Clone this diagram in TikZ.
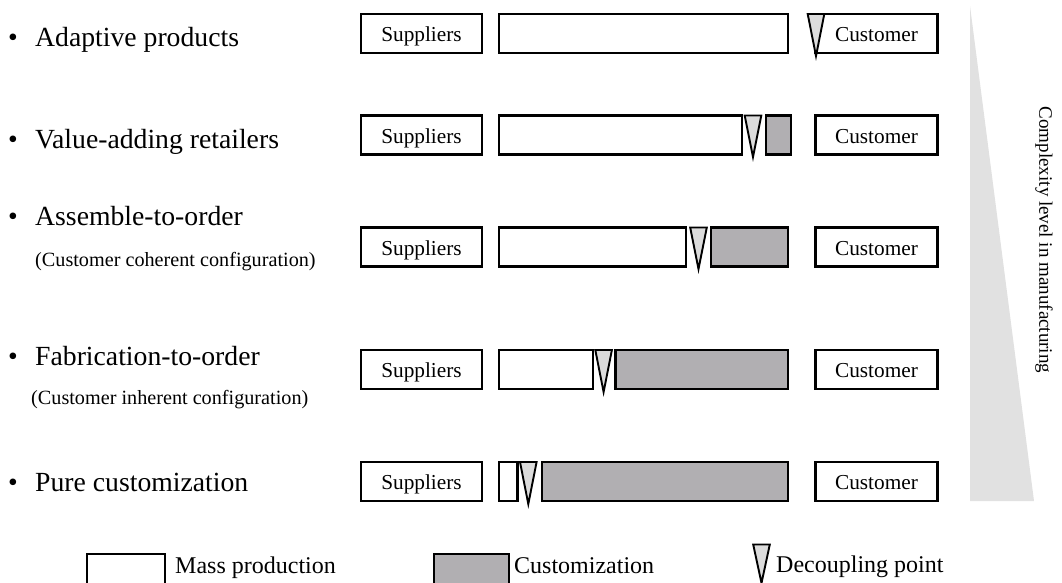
\documentclass[tikz,border=0pt]{standalone}
\usepackage{fontspec}
\setmainfont{Liberation Serif}
\definecolor{custgray}{HTML}{B1AFB2}
\definecolor{dpgray}{HTML}{DCDCDC}
\definecolor{rampgray}{HTML}{E1E1E1}
% decoupling point: narrow inverted wedge, #1 = centre x, #2 = top y, #3 = tip y
\newcommand{\dpwedge}[3]{\draw[dpoint] ({#1-8.3},#2) -- ({#1+8.3},#2) -- (#1,#3) -- cycle;}
\begin{document}
\begin{tikzpicture}[x=1pt,y=-1pt,
  cell/.style={draw=black,line width=2.1pt,inner sep=0pt,minimum height=39pt},
  stagebox/.style={cell,fill=white},
  custbox/.style={cell,fill=custgray},
  endbox/.style={cell,fill=white,text height=16pt,text depth=0pt,font=\fontsize{21.3}{24}\selectfont},
  dpoint/.style={draw=black,line width=1.9pt,fill=dpgray,line join=miter},
  mainlabel/.style={anchor=base west,inner sep=0pt,font=\fontsize{27.7}{30}\selectfont},
  bulletmark/.style={anchor=base,inner sep=0pt,font=\fontsize{27.7}{30}\selectfont},
  sublabel/.style={anchor=base west,inner sep=0pt,font=\fontsize{20.2}{24}\selectfont},
  legendlabel/.style={anchor=base west,inner sep=0pt,font=\fontsize{24}{28}\selectfont}]
\useasboundingbox (0,0) rectangle (1062,583);

% complexity ramp on the right
\fill[rampgray] (970,6) -- (970,501) -- (1034,501) -- cycle;
\node[rotate=-90,inner sep=0pt,font=\fontsize{19}{22}\selectfont] (cplx) at (1044,240) {Complexity level in manufacturing};

% left-hand labels
\node[bulletmark] (b1) at (13,46.5) {•};
\node[mainlabel] (l1) at (35,46.5) {Adaptive products};
\node[bulletmark] (b2) at (13,148) {•};
\node[mainlabel] (l2) at (35,148) {Value-adding retailers};
\node[bulletmark] (b3) at (13,225) {•};
\node[mainlabel] (l3) at (35,225) {Assemble-to-order};
\node[sublabel] (s3) at (35,266) {(Customer coherent configuration)};
\node[bulletmark] (b4) at (13,365) {•};
\node[mainlabel] (l4) at (35,365) {Fabrication-to-order};
\node[sublabel] (s4) at (31,404) {(Customer inherent configuration)};
\node[bulletmark] (b5) at (13,491) {•};
\node[mainlabel] (l5) at (35,491) {Pure customization};

% suppliers and customer boxes
\foreach \r/\y in {1/33.5,2/135,3/247,4/369.5,5/481.5}{
  \node[endbox,minimum width=121pt] (sup\r) at (421.5,\y) {Suppliers};
  \node[endbox,minimum width=122pt] (cus\r) at (876.5,\y) {Customer};
}

% row 1: adaptive products
\node[stagebox,minimum width=289pt] (m1) at (643.5,33.5) {};
\dpwedge{816}{14}{56}
% row 2: value-adding retailers
\node[stagebox,minimum width=242.7pt] (m2) at (620.35,135) {};
\dpwedge{753}{115.5}{157}
\node[custbox,minimum width=24.7pt] (c2) at (778.35,135) {};
% row 3: assemble-to-order
\node[stagebox,minimum width=187pt] (m3) at (592.5,247) {};
\dpwedge{698.5}{227.5}{269}
\node[custbox,minimum width=77.4pt] (c3) at (749.3,247) {};
% row 4: fabrication-to-order
\node[stagebox,minimum width=93.7pt] (m4) at (545.85,369.5) {};
\dpwedge{603.6}{350}{392}
\node[custbox,minimum width=172.5pt] (c4) at (701.75,369.5) {};
% row 5: pure customization
\node[stagebox,minimum width=18.5pt] (m5) at (508.25,481.5) {};
\dpwedge{528.3}{462}{504}
\node[custbox,minimum width=246pt] (c5) at (665,481.5) {};

% legend
\node[stagebox,minimum width=78pt,minimum height=40pt,anchor=north] (lgm) at (126,552.5) {};
\node[legendlabel] (lgmt) at (175,573) {Mass production};
\node[custbox,minimum width=75pt,minimum height=40pt,anchor=north] (lgc) at (471.3,552.5) {};
\node[legendlabel] (lgct) at (514,573) {Customization};
\dpwedge{761.5}{544.5}{583}
\node[legendlabel] (lgd) at (776,572) {Decoupling point};
\end{tikzpicture}
\end{document}
